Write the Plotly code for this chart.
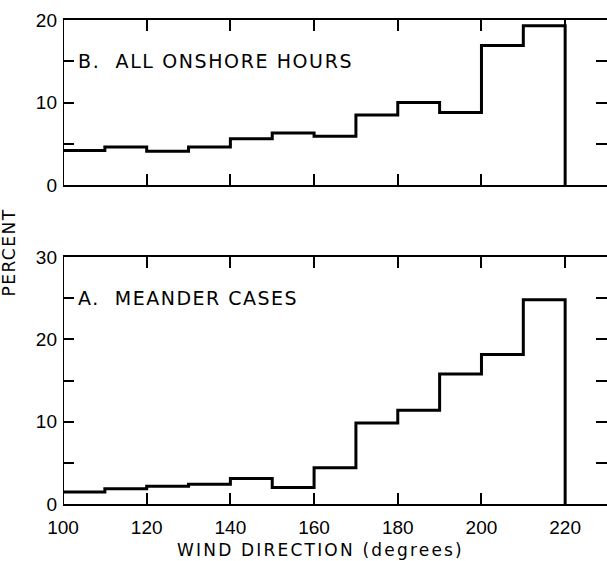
import plotly.graph_objects as go

# bin edges (degrees) and percentages
bin_edges = [100, 110, 120, 130, 140, 150, 160, 170, 180, 190, 200, 210, 220]
onshore_pct = [4.2, 4.6, 4.1, 4.6, 5.6, 6.3, 5.9, 8.5, 10.0, 8.8, 16.9, 19.3]
meander_pct = [1.45, 1.85, 2.15, 2.4, 3.1, 2.0, 4.4, 9.85, 11.4, 15.8, 18.15, 24.8]
x_ticks = [100, 120, 140, 160, 180, 200, 220]
top_yticks = [0, 5, 10, 15, 20]
top_ylabels = ["0", "", "10", "", "20"]
bot_yticks = [0, 5, 10, 15, 20, 25, 30]
bot_ylabels = ["0", "", "10", "", "20", "", "30"]


def step_xy(vals):
    xs = list(bin_edges) + [bin_edges[-1]]
    ys = list(vals) + [vals[-1], 0]
    return xs, ys

FONT = "DejaVu Sans"
TFONT = "Liberation Sans"
fig = go.Figure()
xt, yt = step_xy(onshore_pct)
xb, yb = step_xy(meander_pct)
fig.add_trace(go.Scatter(x=xt, y=yt, mode="lines", line=dict(shape="hv", color="black", width=3),
                         xaxis="x2", yaxis="y2", showlegend=False, hoverinfo="skip"))
fig.add_trace(go.Scatter(x=xb, y=yb, mode="lines", line=dict(shape="hv", color="black", width=3),
                         xaxis="x", yaxis="y", showlegend=False, hoverinfo="skip"))

xrange = [100, 230]
common_x = dict(range=xrange, showline=True, linecolor="black", linewidth=2, mirror="allticks",
                ticks="inside", ticklen=11, tickwidth=2, tickcolor="black", tickvals=x_ticks,
                showgrid=False, zeroline=False)
common_y = dict(showline=False, mirror="allticks", ticks="inside", ticklen=11, tickwidth=2,
                tickcolor="black", showgrid=False, zeroline=False,
                tickfont=dict(family=TFONT, size=19, color="black"))

fig.update_layout(
    width=607, height=561,
    margin=dict(l=63, r=0, t=20, b=57),
    paper_bgcolor="white", plot_bgcolor="white",
    xaxis=dict(**common_x, domain=[0, 1], anchor="y", showticklabels=True,
               tickfont=dict(family=TFONT, size=19, color="black"), ticklabelstandoff=5),
    yaxis=dict(**common_y, domain=[0, 0.5103], anchor="x", range=[0, 30],
               tickvals=bot_yticks, ticktext=bot_ylabels, ticklabelstandoff=5),
    xaxis2=dict(**common_x, domain=[0, 1], anchor="y2", showticklabels=False),
    yaxis2=dict(**common_y, domain=[0.659, 1.0], anchor="x2", range=[0, 20],
                tickvals=top_yticks, ticktext=top_ylabels, ticklabelstandoff=5),
    shapes=[
        dict(type="line", xref="x", yref="y domain", x0=100, x1=100, y0=0, y1=1,
             line=dict(color="black", width=2)),
        dict(type="line", xref="x2", yref="y2 domain", x0=100, x1=100, y0=0, y1=1,
             line=dict(color="black", width=2)),
    ],
    annotations=[
        dict(text='<span style="letter-spacing:1.6px">B.  ALL ONSHORE HOURS</span>',
             xref="x2", yref="y2", x=103.2, y=15, xanchor="left", yanchor="middle",
             showarrow=False, font=dict(family=FONT, size=19, color="black")),
        dict(text='<span style="letter-spacing:1.5px">A.  MEANDER CASES</span>',
             xref="x", yref="y", x=103.0, y=25, xanchor="left", yanchor="middle",
             showarrow=False, font=dict(family=FONT, size=19, color="black")),
        dict(text='<span style="letter-spacing:2.2px">WIND DIRECTION (degrees)</span>',
             xref="paper", yref="paper", x=(320 - 63) / 544, y=-0.095, xanchor="center",
             yanchor="middle", showarrow=False, font=dict(family=FONT, size=17, color="black")),
        dict(text='<span style="letter-spacing:1.5px">PERCENT</span>',
             xref="paper", yref="paper", x=-0.1, y=(504 - 253) / 484, xanchor="center",
             yanchor="middle", textangle=-90, showarrow=False,
             font=dict(family=FONT, size=17, color="black")),
    ],
)

fig.write_html("out.html")
